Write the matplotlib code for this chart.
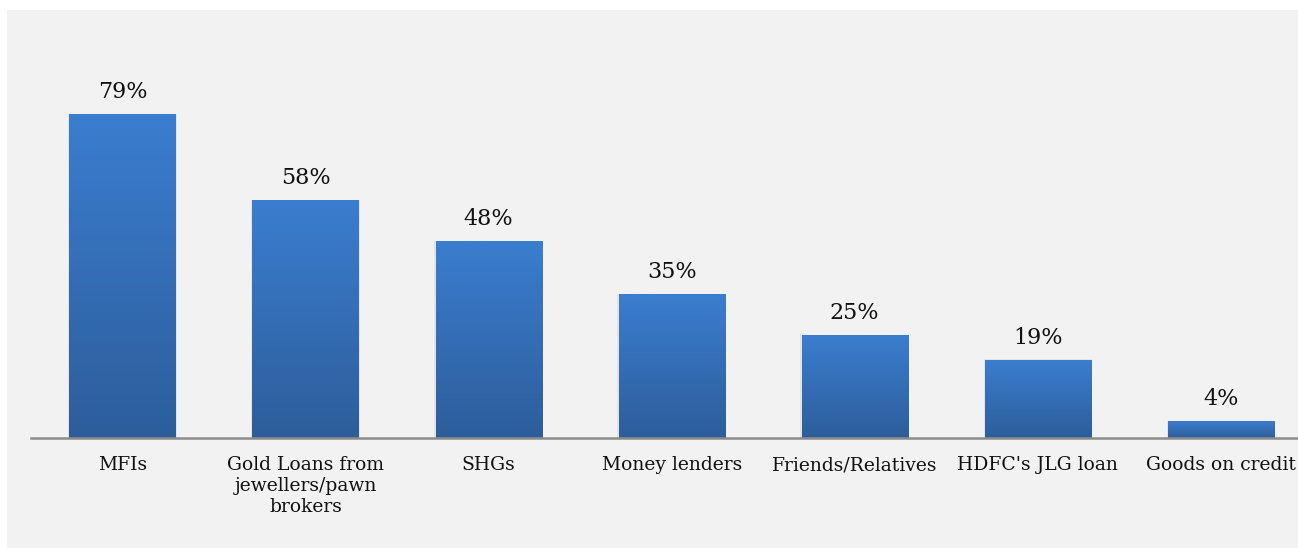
import numpy as np
import matplotlib
matplotlib.use("Agg")
import matplotlib.pyplot as plt
from matplotlib.patches import Rectangle
from matplotlib.colors import LinearSegmentedColormap

categories = ['MFIs', 'Gold Loans from\njewellers/pawn\nbrokers', 'SHGs', 'Money lenders',
              'Friends/Relatives', "HDFC's JLG loan", 'Goods on credit']
values = [79, 58, 48, 35, 25, 19, 4]

plt.rcParams['font.family'] = ['DejaVu Serif']

fig = plt.figure(figsize=(12.98, 5.5), dpi=100)
fig.patch.set_facecolor('white')
# grey chart panel (behind the axes)
fig.patches.append(Rectangle((7 / 1298, 0.004), 1, (540 - 2) / 550, transform=fig.transFigure,
                             facecolor='#f2f2f2', edgecolor='none', zorder=-1))

ax = fig.add_axes([31 / 1298, 112 / 550, 1 - 31 / 1298 + 0.011, (438 - 10) / 550])
ax.set_facecolor('none')

grad = LinearSegmentedColormap.from_list('bar', ['#2d5e9b', '#3b7dcf'])
width = 0.58
x = np.arange(len(values))
for i, v in zip(x, values):
    # soft shadow
    ax.add_patch(Rectangle((i - width / 2 - 0.006, -0.4), width + 0.012, v + 0.6, facecolor='#000000',
                           alpha=0.06, edgecolor='none', zorder=1))
    ax.imshow(np.linspace(0, 1, 100).reshape(-1, 1), cmap=grad, origin='lower', aspect='auto',
              extent=[i - width / 2, i + width / 2, 0, v], zorder=2)
    ax.text(i, v + 2.8, f'{v}%', ha='center', va='bottom', fontsize=16, color='#111111')

ax.set_xlim(-0.5, 6.5)
ax.set_ylim(0, 104.6)
ax.set_xticks(x)
ax.set_xticklabels(categories, fontsize=13.5, linespacing=1.22, color='#111111')
ax.tick_params(axis='x', length=0, pad=13)
ax.set_yticks([])
for s in ['top', 'right', 'left']:
    ax.spines[s].set_visible(False)
ax.spines['bottom'].set_color('#8c8c8c')
ax.spines['bottom'].set_linewidth(1.8)
ax.spines['bottom'].set_zorder(3)

fig.savefig('out.png', dpi=100, facecolor='white')
